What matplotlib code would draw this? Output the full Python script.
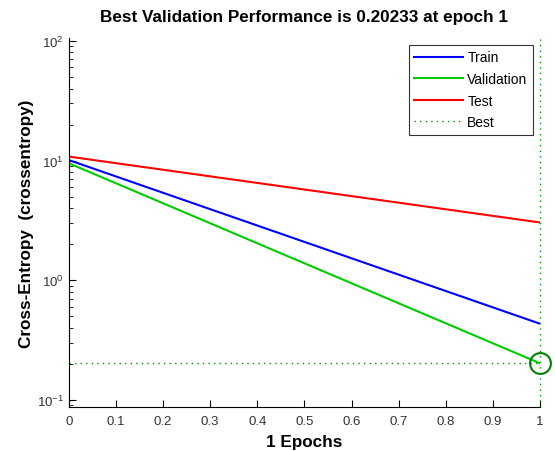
import matplotlib.pyplot as plt
from matplotlib.ticker import LogLocator, LogFormatterSciNotation

plt.rcParams["font.family"] = ["Liberation Sans", "DejaVu Sans"]
plt.rcParams["mathtext.fontset"] = "custom"
plt.rcParams["mathtext.rm"] = "Liberation Sans"
plt.rcParams["mathtext.it"] = "Liberation Sans:italic"
plt.rcParams["axes.unicode_minus"] = False

# performance per epoch
epochs = [0, 1]
train_perf = [10.1, 0.433]
val_perf = [9.5, 0.20233]
test_perf = [10.8, 3.04]
best_epoch = 1
best_perf = 0.20233
x_ticks = [0, 0.1, 0.2, 0.3, 0.4, 0.5, 0.6, 0.7, 0.8, 0.9, 1]
x_tick_labels = ["0", "0.1", "0.2", "0.3", "0.4", "0.5", "0.6", "0.7", "0.8", "0.9", "1"]

fig = plt.figure(figsize=(5.55, 4.52), dpi=100)
ax = fig.add_axes([0.124, 0.097, 0.849, 0.817])

ax.plot(epochs, train_perf, color=(0, 0, 1), lw=1.5, label="Train")
ax.plot(epochs, val_perf, color=(0, 0.8, 0), lw=1.5, label="Validation")
ax.plot(epochs, test_perf, color=(1, 0, 0), lw=1.5, label="Test")
ax.plot([0, best_epoch], [best_perf, best_perf], color=(0, 0.6, 0), lw=1,
        ls=(0, (1, 3)), label="Best")
ax.axvline(best_epoch, color=(0, 0.6, 0), lw=1, ls=(0, (1, 3)), clip_on=False)
ax.plot([best_epoch], [best_perf], "o", ms=15, mfc="none", mec=(0, 0.5, 0),
        mew=1.5, clip_on=False)

ax.set_yscale("log")
ax.set_xlim(0, 1)
ax.set_ylim(0.087, 106)
ax.set_xticks(x_ticks)
ax.set_xticklabels(x_tick_labels)
ax.yaxis.set_major_locator(LogLocator(base=10, numticks=10))
ax.yaxis.set_minor_locator(LogLocator(base=10, subs=range(2, 10), numticks=10))
ax.yaxis.set_major_formatter(LogFormatterSciNotation())
ax.tick_params(which="both", direction="in", labelsize=9.5, labelcolor="#333333")
ax.tick_params(which="major", length=5)
ax.tick_params(which="minor", length=3)
ax.tick_params(axis="x", pad=6)

ax.spines["top"].set_visible(False)
ax.spines["right"].set_visible(False)

ax.set_title("Best Validation Performance is 0.20233 at epoch 1",
             fontsize=12.3, fontweight="bold", pad=12)
ax.set_xlabel("1 Epochs", fontsize=12.3, fontweight="bold", labelpad=5)
ax.set_ylabel("Cross-Entropy  (crossentropy)", fontsize=12.3, fontweight="bold", labelpad=2)

leg = ax.legend(loc="upper right", fontsize=10, frameon=True, fancybox=False,
                handlelength=3.5, borderaxespad=0.5, labelspacing=0.55,
                handletextpad=0.3)
leg.get_frame().set_edgecolor("black")
leg.get_frame().set_linewidth(0.8)

fig.savefig("out.png", dpi=100)
